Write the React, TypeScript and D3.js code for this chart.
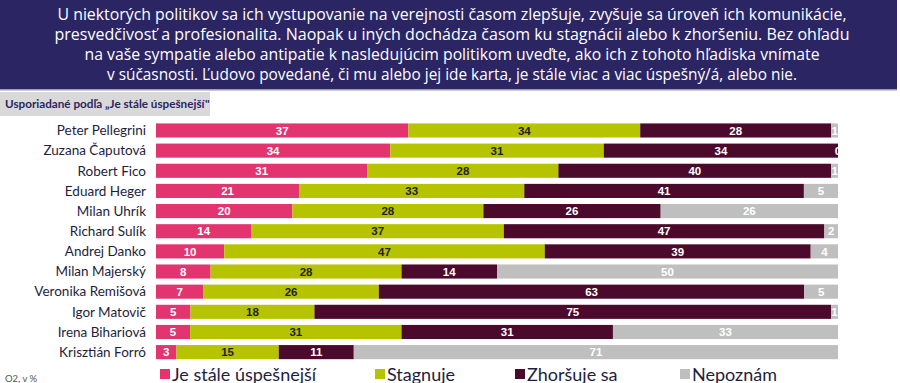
import React from "react";
import * as d3 from "d3";

const politicians = [
  "Peter Pellegrini",
  "Zuzana Čaputová",
  "Robert Fico",
  "Eduard Heger",
  "Milan Uhrík",
  "Richard Sulík",
  "Andrej Danko",
  "Milan Majerský",
  "Veronika Remišová",
  "Igor Matovič",
  "Irena Bihariová",
  "Krisztián Forró",
];
const uspesnejsi = [37, 34, 31, 21, 20, 14, 10, 8, 7, 5, 5, 3];
const stagnuje = [34, 31, 28, 33, 28, 37, 47, 28, 26, 18, 31, 15];
const zhorsuje = [28, 34, 40, 41, 26, 47, 39, 14, 63, 75, 31, 11];
const nepoznam = [1, 0, 1, 5, 26, 2, 4, 50, 5, 1, 33, 71];

const seriesNames = ["Je stále úspešnejší", "Stagnuje", "Zhoršuje sa", "Nepoznám"];
const seriesColors = ["#e2346f", "#b6c300", "#4b0a2b", "#bfbfbf"];
const labelColors = ["#ffffff", "#222222", "#ffffff", "#ffffff"];

const headerLines = [
  "U niektorých politikov sa ich vystupovanie na verejnosti časom zlepšuje, zvyšuje sa úroveň ich komunikácie,",
  "presvedčivosť a profesionalita. Naopak u iných dochádza časom ku stagnácii alebo k zhoršeniu. Bez ohľadu",
  "na vaše sympatie alebo antipatie k nasledujúcim politikom uveďte, ako ich z tohoto hľadiska vnímate",
  "v súčasnosti.  Ľudovo povedané, či mu alebo jej ide karta, je stále viac a viac úspešný/á, alebo nie.",
];
const headerWidths = [789, 795, 735, 690];

export default function App() {
  const W = 900;
  const H = 383;
  const rows = politicians.map((name, i) => ({
    name,
    values: [uspesnejsi[i], stagnuje[i], zhorsuje[i], nepoznam[i]],
  }));

  const x = d3.scaleLinear().domain([0, 1]).range([156, 838]);
  const y = d3
    .scaleBand<string>()
    .domain(politicians)
    .range([120.4, 362.2])
    .paddingInner(0.3)
    .paddingOuter(0.15);

  const legendX = [160, 375, 515, 680];

  return (
    <svg
      width={W}
      height={H}
      style={{ position: "absolute", left: 0, top: 0, background: "#fff" }}
    >
      <rect x={0} y={0} width={897} height={89} fill="#2b2563" />
      <rect x={0} y={89} width={897} height={1.5} fill="#9a9ab0" />
      {headerLines.map((t, i) => (
        <text
          key={i}
          x={452}
          y={20 + i * 20}
          textAnchor="middle"
          fill="#ffffff"
          fontSize={16}
          fontFamily="'Liberation Sans Narrow', 'Open Sans', sans-serif"
          textLength={headerWidths[i]}
          lengthAdjust="spacingAndGlyphs"
        >
          {t}
        </text>
      ))}

      <rect x={0} y={92} width={210} height={24} fill="#d9d9d9" />
      <text
        x={5}
        y={108}
        fontSize={11.7}
        fontWeight="bold"
        fill="#2b2563"
        fontFamily="Lato, 'Open Sans', sans-serif"
      >
        Usporiadané podľa „Je stále úspešnejší"
      </text>

      {rows.map((r) => {
        const total = d3.sum(r.values);
        let acc = 0;
        const y0 = y(r.name)!;
        const bw = y.bandwidth();
        return (
          <g key={r.name}>
            <text
              x={146}
              y={y0 + bw / 2}
              dy="0.35em"
              textAnchor="end"
              fontSize={13.5}
              fill="#1e1e3c"
              fontFamily="Lato, 'Open Sans', sans-serif"
            >
              {r.name}
            </text>
            {r.values.map((v, j) => {
              const a = acc / total;
              acc += v;
              const b = acc / total;
              return (
                <g key={j}>
                  <rect
                    x={x(a)}
                    y={y0}
                    width={Math.max(0, x(b) - x(a))}
                    height={bw}
                    fill={seriesColors[j]}
                  />
                  <text
                    x={(x(a) + x(b)) / 2}
                    y={y0 + bw / 2}
                    dy="0.36em"
                    textAnchor="middle"
                    fontSize={11.5}
                    fontWeight="bold"
                    fill={labelColors[j]}
                    fontFamily="'Liberation Sans', Arial, sans-serif"
                  >
                    {v}
                  </text>
                </g>
              );
            })}
          </g>
        );
      })}

      <text
        x={5}
        y={382}
        fontSize={9.5}
        fill="#555"
        fontFamily="Lato, 'Open Sans', sans-serif"
      >
        O2, v %
      </text>

      {seriesNames.map((s, i) => (
        <g key={s}>
          <rect x={legendX[i]} y={369} width={10} height={10} fill={seriesColors[i]} />
          <text
            x={legendX[i] + 12}
            y={380.5}
            fontSize={18}
            fill="#1e1e3c"
            fontFamily="Lato, 'Open Sans', sans-serif"
          >
            {s}
          </text>
        </g>
      ))}
    </svg>
  );
}
